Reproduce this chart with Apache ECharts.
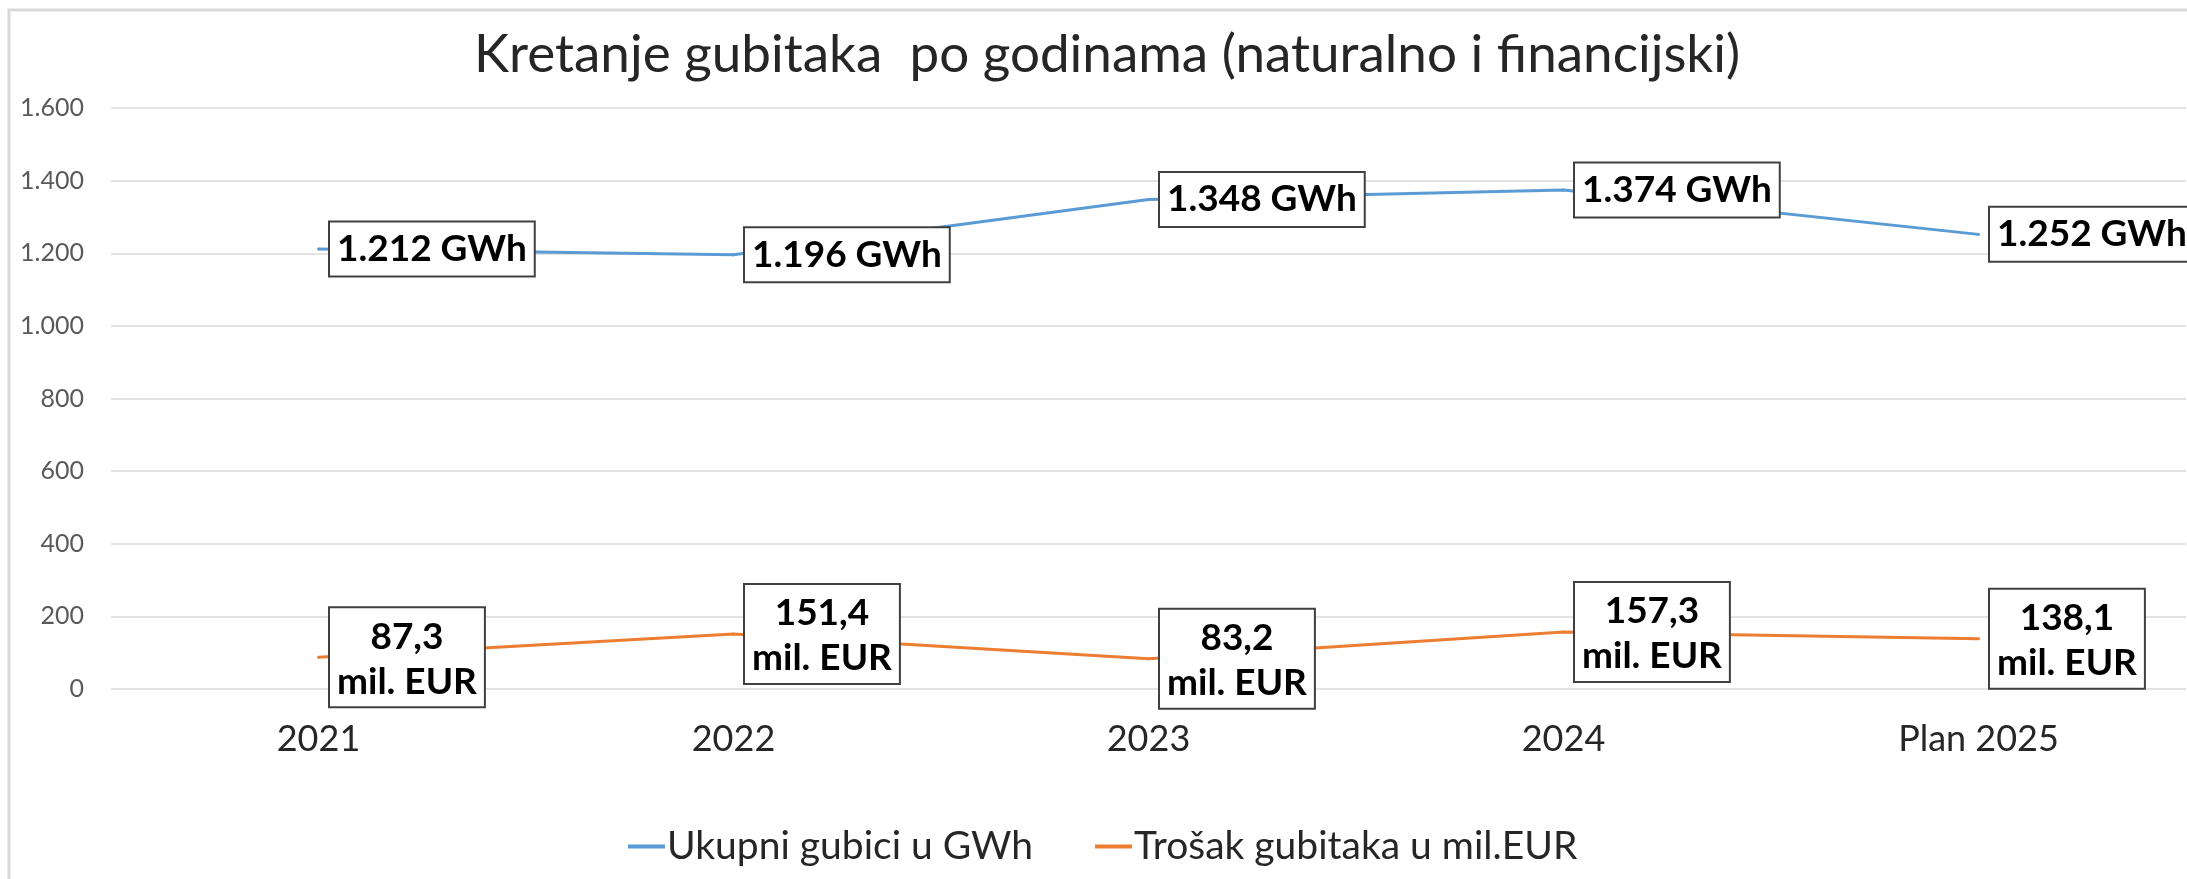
<!DOCTYPE html>
<html>
<head>
<meta charset="utf-8">
<title>Kretanje gubitaka</title>
<script src="https://cdn.jsdelivr.net/npm/echarts@6/dist/echarts.min.js"></script>
<style>
  html, body {
    margin: 0;
    padding: 0;
    background: #fff;
  }
  #lossChart {
    width: 2187px;
    height: 879px;
  }
</style>
</head>
<body>
<div id="lossChart"></div>

<script>
  // podaci sa slike
  var years = ['2021', '2022', '2023', '2024', 'Plan 2025'];
  var lossGWh = [1212, 1196, 1348, 1374, 1252];
  var costMilEUR = [87.3, 151.4, 83.2, 157.3, 138.1];
  var yMin = 0;
  var yMax = 1600;
  var yStep = 200;

  var seriesNames = ['Ukupni gubici u GWh', 'Trošak gubitaka u mil.EUR'];

  var font = 'Lato, "Open Sans", sans-serif';

  /* 1600 -> 1.600 */
  function thousands(v) {
    return String(v).replace(/\B(?=(\d{3})+(?!\d))/g, '.');
  }

  var boxLabel = {
    show: true,
    position: 'right',
    distance: 10,
    color: '#000',
    fontFamily: font,
    fontWeight: 'bold',
    fontSize: 37,
    lineHeight: 45,
    backgroundColor: '#fff',
    borderColor: '#404040',
    borderWidth: 2,
    padding: [4, 7]
  };

  var chart = echarts.init(document.getElementById('lossChart'));

  chart.setOption({
    animation: false,
    backgroundColor: '#fff',
    textStyle: {fontFamily: font},
    title: {
      text: 'Kretanje gubitaka  po godinama (naturalno i financijski)',
      left: 1102,
      top: 23,
      textAlign: 'center',
      textStyle: {
        fontFamily: font,
        fontSize: 53,
        fontWeight: 'normal',
        color: '#262626'
      }
    },
    // okvir grafikona (lijevo i gore)
    graphic: [{
      type: 'rect',
      silent: true,
      shape: {x: 9, y: 10, width: 2400, height: 1000},
      style: {fill: 'none', stroke: '#d9d9d9', lineWidth: 3}
    }],
    grid: {
      left: 111,
      right: 1,
      top: 108,
      bottom: 190
    },
    legend: {
      left: 623,
      top: 822,
      itemWidth: 37,
      itemHeight: 4,
      itemGap: 62,
      icon: 'rect',
      textStyle: {
        fontFamily: font,
        fontSize: 39,
        color: '#262626',
        padding: [0, 0, 0, -3]
      },
      data: seriesNames
    },
    xAxis: {
      type: 'category',
      data: years,
      axisLine: {show: false},
      axisTick: {show: false},
      axisLabel: {
        margin: 32,
        fontFamily: font,
        fontSize: 36,
        color: '#262626'
      }
    },
    yAxis: {
      type: 'value',
      min: yMin,
      max: yMax,
      interval: yStep,
      axisLine: {show: false},
      axisTick: {show: false},
      axisLabel: {
        margin: 27,
        fontFamily: font,
        fontSize: 25,
        color: '#595959',
        formatter: function (v) {
          return thousands(v);
        }
      },
      splitLine: {
        lineStyle: {color: '#e3e3e3', width: 2}
      }
    },
    series: [
      {
        name: seriesNames[0],
        type: 'line',
        data: lossGWh,
        symbol: 'circle',
        symbolSize: 3,
        showSymbol: true,
        color: '#5b9bd5',
        lineStyle: {width: 3, color: '#5b9bd5'},
        label: Object.assign({}, boxLabel, {
          formatter: function (p) {
            return thousands(p.value) + ' GWh';
          }
        })
      },
      {
        name: seriesNames[1],
        type: 'line',
        data: costMilEUR,
        symbol: 'circle',
        symbolSize: 3,
        showSymbol: true,
        color: '#ed7d31',
        lineStyle: {width: 3, color: '#ed7d31'},
        label: Object.assign({}, boxLabel, {
          padding: [6, 7, 2, 7],
          formatter: function (p) {
            // dva retka, centrirano unutar okvira
            return '{c|' + p.value.toFixed(1).replace('.', ',') + '}\n{c|mil. EUR}';
          },
          rich: {
            c: {
              align: 'center',
              color: '#000',
              fontFamily: font,
              fontWeight: 'bold',
              fontSize: 37,
              lineHeight: 45
            }
          }
        })
      }
    ]
  });
</script>
</body>
</html>
